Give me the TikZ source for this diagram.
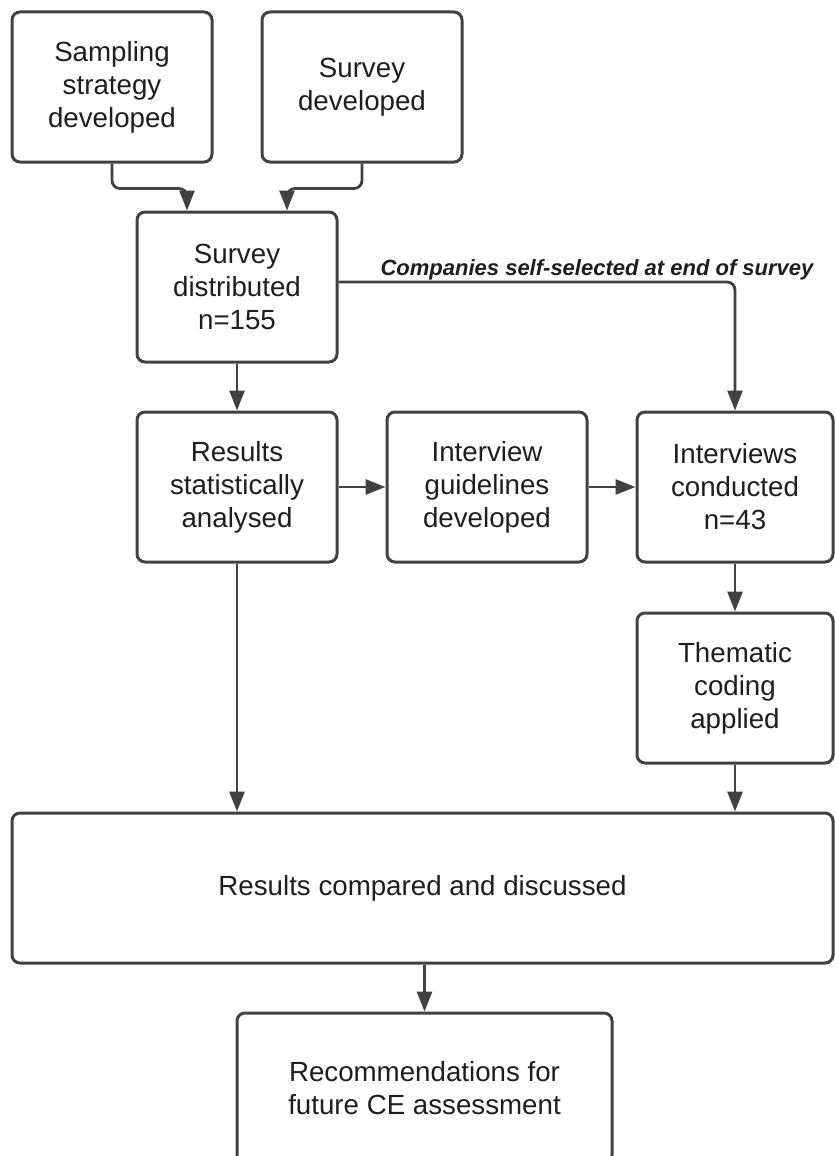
\documentclass[tikz,border=0pt]{standalone}
\usepackage{fontspec}
\setmainfont{Liberation Sans}
\usetikzlibrary{arrows.meta}
\definecolor{ln}{HTML}{414141}
\definecolor{tx}{HTML}{1E1E1E}
\begin{document}
\begin{tikzpicture}[x=1pt,y=-1pt,
  box/.style={draw=ln, line width=3pt, rounded corners=8pt, fill=white, align=center,
    text=tx, font=\fontsize{27.7}{33}\selectfont, minimum height=150pt, inner sep=0pt},
  conn/.style={draw=ln, line width=2.8pt, rounded corners=8pt,
    -{Triangle[length=20pt,width=15pt]}}]
\clip (0,0) rectangle (835,1156);
\fill[white] (0,0) rectangle (835,1156);
\node[box, minimum width=200pt] (samp) at (112,87) {Sampling\\strategy\\developed};
\node[box, minimum width=200pt] (sdev) at (362,87) {Survey\\developed};
\node[box, minimum width=200pt] (sdist) at (237,287) {Survey\\distributed\\n=155};
\node[box, minimum width=200pt] (res) at (237,487) {Results\\statistically\\analysed};
\node[box, minimum width=200pt] (guide) at (487,487) {Interview\\guidelines\\developed};
\node[box, minimum width=196pt] (intv) at (735,487) {Interviews\\conducted\\n=43};
\node[box, minimum width=196pt] (them) at (735,688) {Thematic\\coding\\applied};
\node[box, minimum width=821pt] (comp) at (422.5,888) {Results compared and discussed};
\node[box, minimum width=375pt] (rec) at (424.5,1088) {Recommendations for\\future CE assessment};
\node[text=tx, font=\fontsize{22}{26}\selectfont\bfseries\itshape] (lab) at (597,270) {Companies self-selected at end of survey};
\coordinate (a1) at ([xshift=-50pt]sdist.north);
\coordinate (a2) at ([xshift=50pt]sdist.north);
\draw[conn] (samp.south) -- ++(0,25) coordinate (t1) -- (t1 -| a1) [sharp corners] -- (a1);
\draw[conn] (sdev.south) -- ++(0,25) coordinate (t2) -- (t2 -| a2) [sharp corners] -- (a2);
\draw[conn] ([yshift=5pt]sdist.east) -| (intv.north);
\draw[conn] (sdist.south) -- (res.north);
\draw[conn] (res.east) -- (guide.west);
\draw[conn] (guide.east) -- (intv.west);
\draw[conn] (intv.south) -- (them.north);
\draw[conn] (them.south) -- (them.south |- comp.north);
\draw[conn] (res.south) -- (res.south |- comp.north);
\draw[conn] (comp.south -| rec.north) -- (rec.north);
\end{tikzpicture}
\end{document}
